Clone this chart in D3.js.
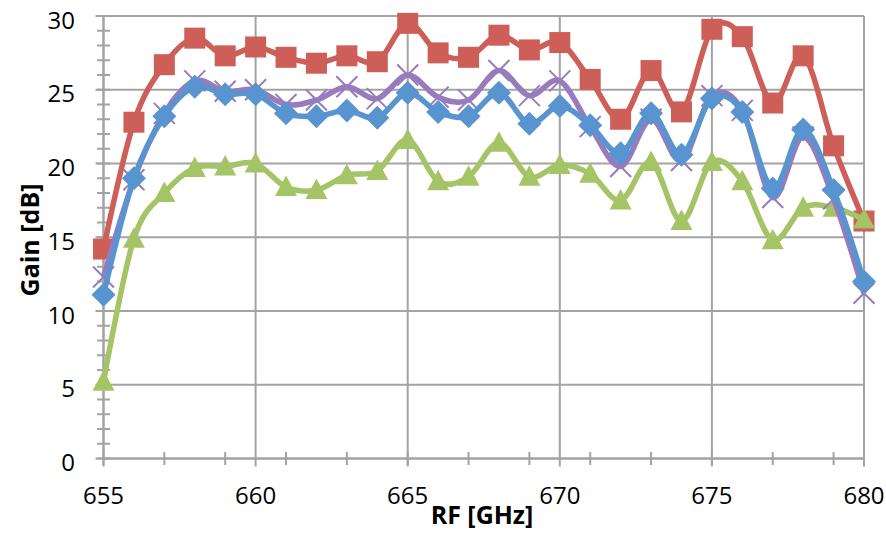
<!DOCTYPE html>
<html>
<head>
<meta charset="utf-8">
<script src="https://cdn.jsdelivr.net/npm/d3@7"></script>
<style>
  html, body { margin: 0; padding: 0; background: #fff; }
  svg { display: block; }
  text { font-family: "Open Sans", "Noto Sans", sans-serif; fill: #000; }
</style>
</head>
<body>
<svg id="chart" width="886" height="533"></svg>
<script>
// RF frequency points (GHz)
const freqs = [655,656,657,658,659,660,661,662,663,664,665,666,667,668,669,670,671,672,673,674,675,676,677,678,679,680];

// Gain per series (dB)
const gainRed    = [14.2,22.8,26.7,28.5,27.3,27.9,27.2,26.8,27.3,26.9,29.5,27.5,27.2,28.7,27.7,28.2,25.7,23.0,26.3,23.5,29.1,28.6,24.1,27.3,21.2,16.1];
const gainPurple = [12.3,18.9,23.4,25.6,24.9,25.0,24.0,24.3,25.2,24.4,26.0,24.5,24.3,26.3,24.6,25.6,22.5,19.8,23.0,20.2,24.6,23.6,17.7,21.8,17.6,11.2];
const gainBlue   = [11.1,19.0,23.2,25.2,24.7,24.7,23.4,23.2,23.6,23.1,24.8,23.5,23.2,24.8,22.7,23.9,22.6,20.7,23.4,20.6,24.4,23.5,18.3,22.3,18.2,12.0];
const gainGreen  = [5.2,14.9,18.0,19.7,19.8,20.0,18.4,18.2,19.2,19.5,21.6,18.8,19.1,21.4,19.1,19.9,19.3,17.5,20.1,16.1,20.1,18.8,14.8,17.0,17.0,16.2];

// Axis ticks
const xMajorTicks = [655,660,665,670,675,680];
const xMinorTicks = [655,657,659,661,663,665,667,669,671,673,675,677,679];
const yMajorTicks = [0,5,10,15,20,25,30];
const yMinorTicks = d3.range(0, 31, 1);

const svg = d3.select("#chart");
const plotLeft = 103.5, plotRight = 864, plotTop = 16, plotBottom = 458.5;

const x = d3.scaleLinear().domain([655, 680]).range([plotLeft, plotRight]);
const y = d3.scaleLinear().domain([0, 30]).range([plotBottom, plotTop]);

const gridColor = "#a3a3a3";

// Gridlines
const grid = svg.append("g");
grid.selectAll("line.h").data(yMajorTicks).join("line")
  .attr("class", "h")
  .attr("x1", plotLeft).attr("x2", plotRight)
  .attr("y1", d => y(d)).attr("y2", d => y(d))
  .attr("stroke", gridColor).attr("stroke-width", 2);
grid.selectAll("line.v").data(xMajorTicks).join("line")
  .attr("class", "v")
  .attr("x1", d => x(d)).attr("x2", d => x(d))
  .attr("y1", plotTop).attr("y2", plotBottom)
  .attr("stroke", gridColor).attr("stroke-width", 2);

// Axes with cross tick marks
const xAxis = svg.append("g");
xAxis.append("line").attr("x1", plotLeft).attr("x2", plotRight).attr("y1", plotBottom).attr("y2", plotBottom)
  .attr("stroke", gridColor).attr("stroke-width", 2);
xAxis.selectAll("line.minor").data(xMinorTicks).join("line")
  .attr("class", "minor")
  .attr("x1", d => x(d)).attr("x2", d => x(d))
  .attr("y1", plotBottom - 6.5).attr("y2", plotBottom + 6.5)
  .attr("stroke", gridColor).attr("stroke-width", 2);
xAxis.selectAll("line.major").data(xMajorTicks).join("line")
  .attr("class", "major")
  .attr("x1", d => x(d)).attr("x2", d => x(d))
  .attr("y1", plotBottom).attr("y2", plotBottom + 8)
  .attr("stroke", gridColor).attr("stroke-width", 2);
xAxis.selectAll("text").data(xMajorTicks).join("text")
  .attr("x", d => x(d)).attr("y", plotBottom + 45)
  .attr("text-anchor", "middle")
  .attr("font-size", 24)
  .text(d => d);

const yAxis = svg.append("g");
yAxis.append("line").attr("x1", plotLeft).attr("x2", plotLeft).attr("y1", plotTop).attr("y2", plotBottom)
  .attr("stroke", gridColor).attr("stroke-width", 2);
yAxis.selectAll("line.minor").data(yMinorTicks).join("line")
  .attr("class", "minor")
  .attr("x1", plotLeft - 6.5).attr("x2", plotLeft + 6.5)
  .attr("y1", d => y(d)).attr("y2", d => y(d))
  .attr("stroke", gridColor).attr("stroke-width", 2);
yAxis.selectAll("line.major").data(yMajorTicks).join("line")
  .attr("class", "major")
  .attr("x1", plotLeft - 8).attr("x2", plotLeft)
  .attr("y1", d => y(d)).attr("y2", d => y(d))
  .attr("stroke", gridColor).attr("stroke-width", 2);
yAxis.selectAll("text").data(yMajorTicks).join("text")
  .attr("x", 75).attr("y", d => y(d) + 12.5)
  .attr("text-anchor", "end")
  .attr("font-size", 24)
  .text(d => d);

// Axis titles
svg.append("text")
  .attr("x", 482).attr("y", 524)
  .attr("text-anchor", "middle")
  .attr("font-size", 25).attr("font-weight", "bold")
  .text("RF [GHz]");
svg.append("text")
  .attr("transform", "translate(39,240) rotate(-90)")
  .attr("text-anchor", "middle")
  .attr("font-size", 25).attr("font-weight", "bold")
  .text("Gain [dB]");

// Series: smoothed line plus markers
const line = d3.line().x(d => x(d[0])).y(d => y(d[1])).curve(d3.curveCardinal.tension(0));

function drawSeries(values, color, marker) {
  const pts = freqs.map((f, i) => [f, values[i]]);
  const g = svg.append("g");
  g.append("path").datum(pts)
    .attr("d", line)
    .attr("fill", "none")
    .attr("stroke", color)
    .attr("stroke-width", 5.5)
    .attr("stroke-linejoin", "round");
  const m = g.selectAll("g.m").data(pts).join("g")
    .attr("class", "m")
    .attr("transform", d => `translate(${x(d[0])},${y(d[1])})`);
  if (marker === "square") {
    m.append("rect").attr("x", -10.5).attr("y", -10.5).attr("width", 21).attr("height", 21)
      .attr("fill", color);
  } else if (marker === "diamond") {
    m.append("path").attr("d", "M0,-12L12,0L0,12L-12,0Z").attr("fill", color);
  } else if (marker === "triangle") {
    m.append("path").attr("d", "M0,-11.5L11,9L-11,9Z").attr("fill", color);
  } else if (marker === "x") {
    m.append("path").attr("d", "M-10.5,-10.5L10.5,10.5M10.5,-10.5L-10.5,10.5")
      .attr("stroke", color).attr("stroke-width", 2).attr("fill", "none");
  }
}

drawSeries(gainRed, "#cd5e58", "square");
drawSeries(gainGreen, "#a4c466", "triangle");
drawSeries(gainPurple, "#977bbd", "x");
drawSeries(gainBlue, "#5894cf", "diamond");
</script>
</body>
</html>
